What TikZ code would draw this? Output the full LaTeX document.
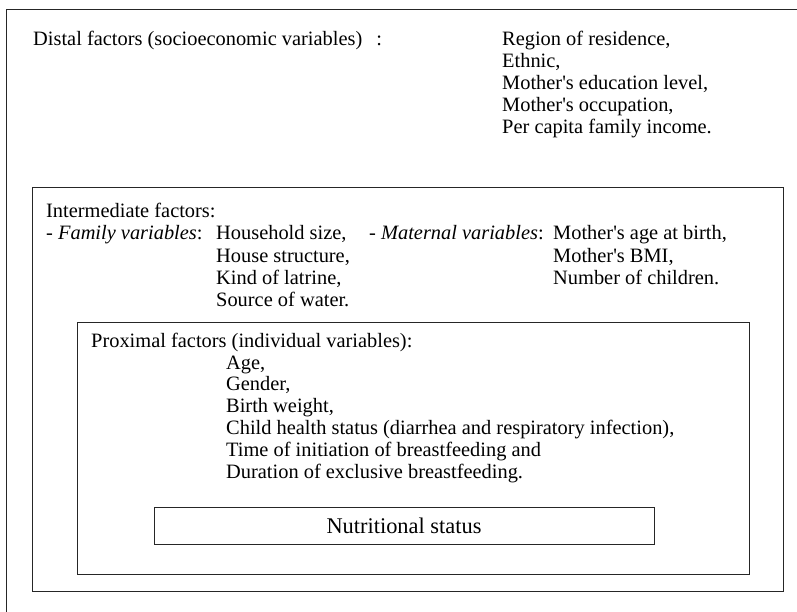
\documentclass[tikz,border=0pt]{standalone}
\usepackage{fontspec}
\setmainfont{Liberation Serif}
\newcommand{\apos}{\textquotesingle}
\tikzset{
  txt/.style={anchor=base west, inner sep=0pt, font=\fontsize{20.4}{22}\selectfont},
  frame/.style={draw=black!85, line width=0.9pt},
}

\begin{document}
\begin{tikzpicture}[x=1pt, y=-1pt]
  \useasboundingbox (0,0) rectangle (797,612);
  % outer frame, cut off at right and bottom
  \draw[frame] (6,612) -- (6,9) -- (797,9);
  \draw[frame] (32,187) rectangle (783,591);
  \draw[frame] (77,322) rectangle (749,574);

  % distal level
  \node[txt] (distal) at (33,46) {Distal factors (socioeconomic variables)\hspace{14pt}:};
  \foreach \t [count=\i from 0] in {{Region of residence,}, {Ethnic,},
      {Mother\apos s education level,}, {Mother\apos s occupation,},
      {Per capita family income.}}
    \node[txt] (dist\i) at (502,{46+22*\i}) {\t};

  % intermediate level
  \node[txt] (inter) at (46,218) {Intermediate factors:};
  \node[txt] (fam) at (46,240) {- \textit{Family variables}:};
  \foreach \t [count=\i from 0] in {{Household size,}, {House structure,},
      {Kind of latrine,}, {Source of water.}}
    \node[txt] (fam\i) at (216,{240+22*\i}) {\t};
  \node[txt] (mat) at (369,240) {- \textit{Maternal variables}:};
  \foreach \t [count=\i from 0] in {{Mother\apos s age at birth,},
      {Mother\apos s BMI,}, {Number of children.}}
    \node[txt] (mat\i) at (553,{240+22*\i}) {\t};

  % proximal level
  \node[txt] (prox) at (91,347) {Proximal factors (individual variables):};
  \foreach \t [count=\i from 0] in {{Age,}, {Gender,}, {Birth weight,},
      {Child health status (diarrhea and respiratory infection),},
      {Time of initiation of breastfeeding and},
      {Duration of exclusive breastfeeding.}}
    \node[txt] (prox\i) at (226,{369+21.8*\i}) {\t};

  \node[frame, minimum width=500pt, minimum height=37pt, inner sep=0pt,
        font=\fontsize{22.4}{24}\selectfont] (nutr) at (404,525.5) {Nutritional status};
\end{tikzpicture}
\end{document}
